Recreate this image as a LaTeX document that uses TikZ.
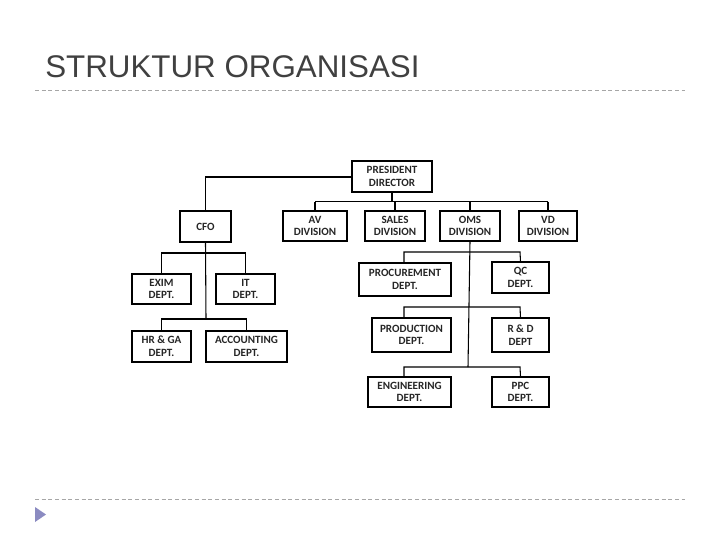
\documentclass[tikz,border=0pt]{standalone}
\usepackage{fontspec}
\setmainfont{Carlito}
\newfontfamily\titlefont{Liberation Sans}
\begin{document}
\begin{tikzpicture}[x=0.75pt,y=-0.75pt,
  box/.style={draw=black,line width=0.8pt,fill=white,align=center,inner sep=0pt,
    font=\fontsize{8.3}{9.5}\selectfont\bfseries,text=black!85},
  conn/.style={line width=0.8pt,black},
  sep/.style={draw=gray!70,dashed,line width=0.6pt,dash pattern=on 3pt off 2pt}]
\useasboundingbox (0,0) rectangle (720,540);
\node[anchor=base west,inner sep=0pt,font=\titlefont\fontsize{23.5}{26}\selectfont,text=black!75] (title) at (45,77) {STRUKTUR ORGANISASI};
\draw[sep] (35,90) coordinate (s1a) -- (685,90) coordinate (s1b);
\draw[sep] (35,499) coordinate (s2a) -- (685,499) coordinate (s2b);
\fill[blue!30!gray!70] (35,507) -- (46,514.5) -- (35,522) -- cycle;
\newcommand{\bx}[6]{\node[box,minimum width={(#3-#1)*0.75pt},minimum height={(#4-#2)*0.75pt}] (#5) at ({(#1+#3)/2},{(#2+#4)/2}) {#6};}
\bx{352}{161}{432}{192}{pres}{PRESIDENT\\DIRECTOR}
\bx{180}{211}{231}{242}{cfo}{CFO}
\bx{283}{211}{347}{241}{av}{AV\\DIVISION}
\bx{365}{211}{425}{241}{sales}{SALES\\DIVISION}
\bx{440}{211}{500}{241}{oms}{OMS\\DIVISION}
\bx{519}{211}{577}{241}{vd}{VD\\DIVISION}
\bx{132}{274}{191}{304}{exim}{EXIM\\DEPT.}
\bx{216}{274}{275}{304}{it}{IT\\DEPT.}
\bx{132}{331}{191}{362}{hr}{HR \& GA\\DEPT.}
\bx{206}{331}{287}{362}{acc}{ACCOUNTING\\DEPT.}
\bx{359}{263}{451}{296}{proc}{PROCUREMENT\\DEPT.}
\bx{492}{262}{549}{293}{qc}{QC\\DEPT.}
\bx{372}{318}{451}{352}{prod}{PRODUCTION\\DEPT.}
\bx{492}{318}{549}{352}{rd}{R \& D\\DEPT}
\bx{368}{377}{451}{407}{eng}{ENGINEERING\\DEPT.}
\bx{492}{377}{549}{407}{ppc}{PPC\\DEPT.}
\draw[conn] (pres.south) -- ++(0,9) coordinate (pb);
\draw[conn] (av.north |- pb) -- (vd.north |- pb);
\foreach \n in {av,sales,oms,vd} \draw[conn] (\n.north |- pb) -- (\n.north);
\draw[conn] (pres.west |- 0,177) -| (cfo.north);
\draw[conn] (cfo.south) -- (206,319) coordinate (cb);
\draw[conn] (exim.north) -- (exim.north |- 0,253) -- (it.north |- 0,253) -- (it.north);
\draw[conn] (hr.north) -- (hr.north |- cb) -- (acc.north |- cb) -- (acc.north);
\draw[conn] (oms.south) -- (468,367) coordinate (ob);
\draw[conn] (404,263) -- (404,252) -- (520,252) -- (qc.north);
\draw[conn] (404,318) -- (404,307) -- (520,307) -- (rd.north);
\draw[conn] (404,377) -- (404,367) -- (520,367) -- (ppc.north);
\end{tikzpicture}
\end{document}
